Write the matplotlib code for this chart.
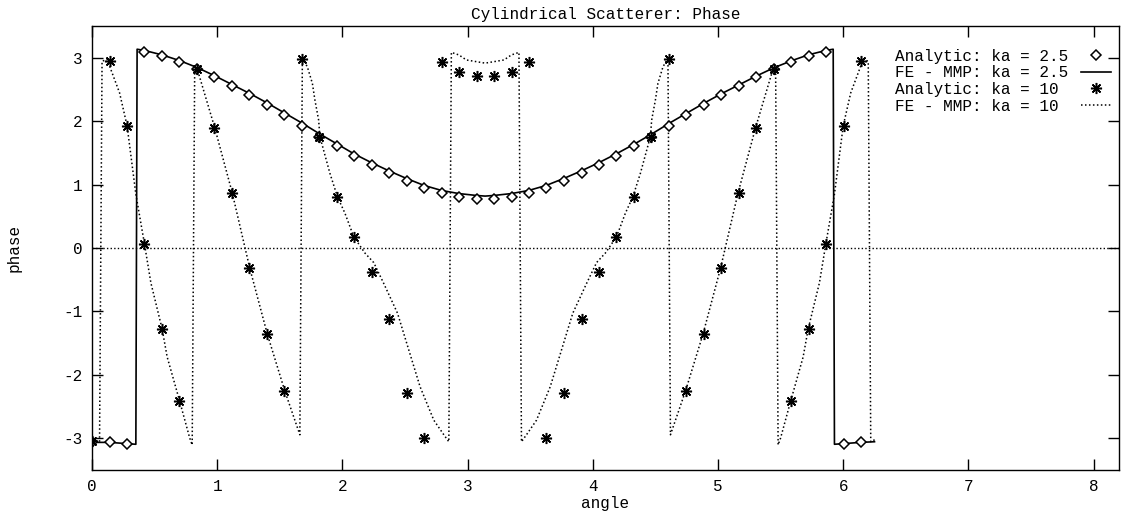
import matplotlib
matplotlib.use("Agg")
import matplotlib.pyplot as plt

# analytic solution sampled every 2*pi/45
angle = [0.000, 0.140, 0.279, 0.419, 0.559, 0.698, 0.838, 0.977, 1.117, 1.257,
         1.396, 1.536, 1.676, 1.815, 1.955, 2.094, 2.234, 2.374, 2.513, 2.653,
         2.793, 2.932, 3.072, 3.211, 3.351, 3.491, 3.630, 3.770, 3.910, 4.049,
         4.189, 4.329, 4.468, 4.608, 4.747, 4.887, 5.027, 5.166, 5.306, 5.445,
         5.585, 5.725, 5.864, 6.004, 6.144]

analytic_25 = [-3.07, -3.07, -3.09, 3.10, 3.03, 2.94, 2.83, 2.70, 2.56, 2.42,
               2.26, 2.10, 1.93, 1.76, 1.61, 1.45, 1.31, 1.18, 1.06, 0.95,
               0.87, 0.81, 0.77, 0.77, 0.81, 0.87, 0.95, 1.06, 1.18, 1.31,
               1.45, 1.61, 1.76, 1.93, 2.10, 2.26, 2.42, 2.56, 2.70, 2.83,
               2.94, 3.03, 3.10, -3.09, -3.07]

analytic_10 = [-3.05, 2.95, 1.93, 0.06, -1.28, -2.42, 2.83, 1.90, 0.87, -0.32,
               -1.36, -2.26, 2.98, 1.76, 0.81, 0.17, -0.38, -1.12, -2.29, -3.00,
               2.94, 2.78, 2.72, 2.72, 2.78, 2.94, -3.00, -2.29, -1.12, -0.38,
               0.17, 0.81, 1.76, 2.98, -2.26, -1.36, -0.32, 0.87, 1.90, 2.83,
               -2.42, -1.28, 0.06, 1.93, 2.95]

# FE - MMP results
fe_25_angle = [0.00, 0.14, 0.28, 0.35, 0.36, 0.42, 0.56, 0.70, 0.84, 0.98,
               1.12, 1.26, 1.40, 1.54, 1.68, 1.82, 1.96, 2.09, 2.23, 2.37,
               2.51, 2.65, 2.79, 2.93, 3.07, 3.14, 3.21, 3.35, 3.49, 3.63,
               3.77, 3.91, 4.05, 4.19, 4.33, 4.47, 4.61, 4.75, 4.89, 5.03,
               5.17, 5.31, 5.45, 5.59, 5.72, 5.86, 5.92, 5.93, 6.00, 6.14, 6.25]
fe_25_phase = [-3.07, -3.07, -3.09, -3.10, 3.14, 3.12, 3.05, 2.96, 2.85, 2.72,
               2.58, 2.44, 2.29, 2.13, 1.97, 1.80, 1.64, 1.49, 1.35, 1.22,
               1.10, 0.99, 0.91, 0.86, 0.83, 0.82, 0.83, 0.86, 0.91, 0.99,
               1.10, 1.22, 1.35, 1.49, 1.64, 1.80, 1.97, 2.13, 2.29, 2.44,
               2.58, 2.72, 2.85, 2.96, 3.05, 3.12, 3.14, -3.10, -3.09, -3.07, -3.06]

fe_10_angle = [0.00, 0.06, 0.08, 0.12, 0.22, 0.28, 0.35, 0.42, 0.47, 0.56,
               0.60, 0.70, 0.78, 0.80, 0.82, 0.84, 0.98, 1.12, 1.26, 1.40,
               1.54, 1.66, 1.68, 1.72, 1.76, 1.78, 1.81, 1.82, 1.90, 1.96,
               2.02, 2.09, 2.18, 2.25, 2.33, 2.44, 2.53, 2.62, 2.73, 2.81,
               2.85, 2.87, 2.93, 2.99, 3.14,
               3.29, 3.35, 3.41, 3.43, 3.47, 3.55, 3.66, 3.75, 3.84, 3.95,
               4.03, 4.10, 4.19, 4.26, 4.32, 4.38, 4.46, 4.47, 4.50, 4.52,
               4.56, 4.60, 4.62, 4.74, 4.88, 5.02, 5.16, 5.30, 5.44, 5.46,
               5.48, 5.50, 5.58, 5.68, 5.72, 5.81, 5.86, 5.93, 6.00, 6.06,
               6.16, 6.20, 6.22, 6.26]
fe_10_phase = [-3.02, -3.06, 2.95, 2.98, 2.45, 1.93, 0.85, 0.05, -0.55, -1.28,
               -1.72, -2.42, -3.00, -3.11, 2.85, 2.83, 1.90, 0.87, -0.32, -1.36,
               -2.26, -2.95, 3.00, 2.86, 2.60, 2.34, 2.02, 1.76, 1.18, 0.81,
               0.55, 0.18, -0.08, -0.23, -0.56, -1.03, -1.61, -2.19, -2.72, -2.95,
               -3.06, 3.09, 3.05, 2.97, 2.92,
               2.97, 3.05, 3.09, -3.06, -2.95, -2.72, -2.19, -1.61, -1.03, -0.56,
               -0.23, -0.08, 0.18, 0.55, 0.81, 1.18, 1.76, 2.02, 2.34, 2.60,
               2.86, 3.00, -2.95, -2.26, -1.36, -0.32, 0.87, 1.90, 2.83, 2.85,
               -3.11, -3.00, -2.42, -1.72, -1.28, -0.55, 0.05, 0.85, 1.93, 2.45,
               2.98, 2.95, -3.06, -3.02]

plt.rcParams['font.family'] = ['Liberation Mono', 'DejaVu Sans Mono']
plt.rcParams['font.size'] = 11.5
plt.rcParams['axes.unicode_minus'] = False

fig = plt.figure(figsize=(11.21, 5.13), dpi=100)
ax = fig.add_axes([0.0821, 0.0846, 0.9158, 0.8639])

dotted = (0, (1, 1.6))
ax.axhline(0, color='black', lw=1.0, ls=dotted, zorder=1)

ax.plot(angle, analytic_25, ls='none', marker='D', ms=5.5, mfc='white',
        mec='black', mew=1.1, label='Analytic: ka = 2.5', zorder=4)
ax.plot(fe_25_angle, fe_25_phase, color='black', lw=1.2,
        label='FE - MMP: ka = 2.5', zorder=3)
ax.plot(angle, analytic_10, ls='none', marker=(8, 2, 0), ms=8, mew=1.1,
        color='black', label='Analytic: ka = 10 ', zorder=5)
ax.plot(fe_10_angle, fe_10_phase, color='black', lw=1.1, ls=dotted,
        label='FE - MMP: ka = 10 ', zorder=2)

ax.set_xlim(0, 8.2)
ax.set_ylim(-3.5, 3.5)
ax.set_xticks(range(0, 9))
ax.set_yticks(range(-3, 4))
ax.tick_params(direction='in', length=8, width=1, top=True, right=True, pad=7)
for s in ax.spines.values():
    s.set_linewidth(1.0)

ax.set_title('Cylindrical Scatterer: Phase', fontsize=11.5, pad=5)
ax.set_xlabel('angle', labelpad=1)
ax.set_ylabel('phase', labelpad=30)

ax.legend(loc='upper right', bbox_to_anchor=(0.991, 0.905),
          bbox_transform=fig.transFigure, frameon=False, markerfirst=False,
          handlelength=1.9, handletextpad=0.75, labelspacing=0.1,
          borderpad=0, borderaxespad=0)

fig.savefig('out.png', dpi=100)
